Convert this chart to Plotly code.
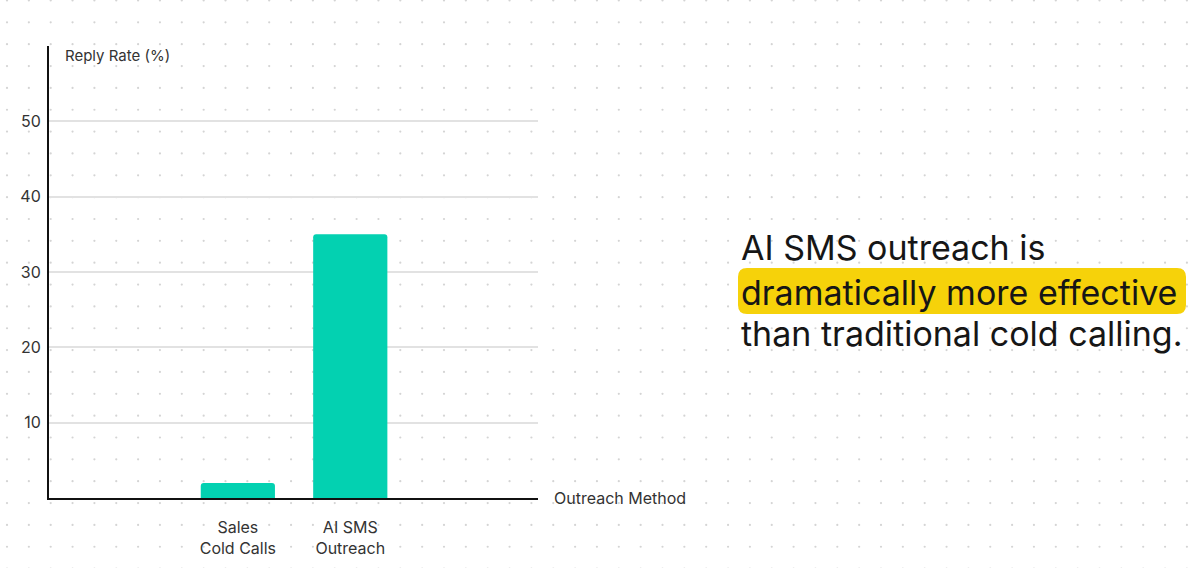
import numpy as np
import plotly.graph_objects as go

# ---- data ----
categories = ["Sales<br>Cold Calls", "AI SMS<br>Outreach"]
reply_rate = [2, 35]
y_ticks = [10, 20, 30, 40, 50]
headline_lines = ["AI SMS outreach is", "dramatically more effective", "than traditional cold calling."]

W, H = 1200, 568
FONT = "Inter, Roboto, sans-serif"

def px(x):
    return x / W

def py(y):
    return 1 - y / H

fig = go.Figure()

# background dot grid (decoration) on full-page axes
step = 21.85
gx = np.arange(7, W + 1, step)
gy = np.arange(0.5, H + 1, step)
GX, GY = np.meshgrid(gx, gy)
fig.add_trace(go.Scatter(
    x=GX.ravel(), y=GY.ravel(), mode="markers",
    marker=dict(size=2.2, color="#d4d4d4"),
    hoverinfo="skip", showlegend=False, xaxis="x", yaxis="y",
))

# bars
fig.add_trace(go.Bar(
    x=categories, y=reply_rate, xaxis="x2", yaxis="y2",
    marker=dict(color="#03D1B1", cornerradius=3, line=dict(width=0)),
    width=0.66, showlegend=False, hoverinfo="x+y",
))

fig.update_layout(
    width=W, height=H,
    margin=dict(l=0, r=0, t=0, b=0),
    paper_bgcolor="white", plot_bgcolor="rgba(0,0,0,0)",
    font=dict(family=FONT, color="#333333", size=16),
    xaxis=dict(domain=[0, 1], range=[0, W], visible=False, fixedrange=True),
    yaxis=dict(domain=[0, 1], range=[H, 0], visible=False, fixedrange=True),
    xaxis2=dict(
        domain=[px(49), px(538)], anchor="y2", range=[-1.68, 2.67],
        showline=True, linecolor="#111111", linewidth=2, showgrid=False,
        ticks="", tickfont=dict(size=16, color="#333333"), ticklabelstandoff=14,
    ),
    yaxis2=dict(
        domain=[py(498), py(46)], anchor="x2", range=[0, 60],
        showline=True, linecolor="#111111", linewidth=2,
        showgrid=True, gridcolor="#e2e2e2", gridwidth=1.5,
        tickvals=y_ticks, ticks="", tickfont=dict(size=16, color="#333333"),
        ticklabelstandoff=3, zeroline=False,
    ),
    bargap=0.34,
)

# axis titles as annotations
fig.add_annotation(text="Reply Rate (%)", x=px(63), y=py(56), xref="paper", yref="paper",
                   xanchor="left", yanchor="middle", showarrow=False,
                   font=dict(size=15, color="#333333", family=FONT))
fig.add_annotation(text="Outreach Method", x=px(552), y=py(498), xref="paper", yref="paper",
                   xanchor="left", yanchor="middle", showarrow=False,
                   font=dict(size=16, color="#333333", family=FONT))

# highlight box (rounded)
x0, x1, y0, y1, r = 738, 1186, 268, 314, 9
path = (f"M {px(x0 + r)} {py(y0)} L {px(x1 - r)} {py(y0)} "
        f"Q {px(x1)} {py(y0)} {px(x1)} {py(y0 + r)} L {px(x1)} {py(y1 - r)} "
        f"Q {px(x1)} {py(y1)} {px(x1 - r)} {py(y1)} L {px(x0 + r)} {py(y1)} "
        f"Q {px(x0)} {py(y1)} {px(x0)} {py(y1 - r)} L {px(x0)} {py(y0 + r)} "
        f"Q {px(x0)} {py(y0)} {px(x0 + r)} {py(y0)} Z")
fig.add_shape(type="path", path=path, xref="paper", yref="paper",
              fillcolor="#F6D20A", line=dict(width=0), layer="above")

line_y = [247, 292, 333]
for txt, yy in zip(headline_lines, line_y):
    fig.add_annotation(text=txt, x=px(739), y=py(yy), xref="paper", yref="paper",
                       xanchor="left", yanchor="middle", showarrow=False,
                       font=dict(size=34, color="#161616", family=FONT))

fig.write_html("out.html", config={"displayModeBar": False},
               post_script="document.body.style.margin='0';")
